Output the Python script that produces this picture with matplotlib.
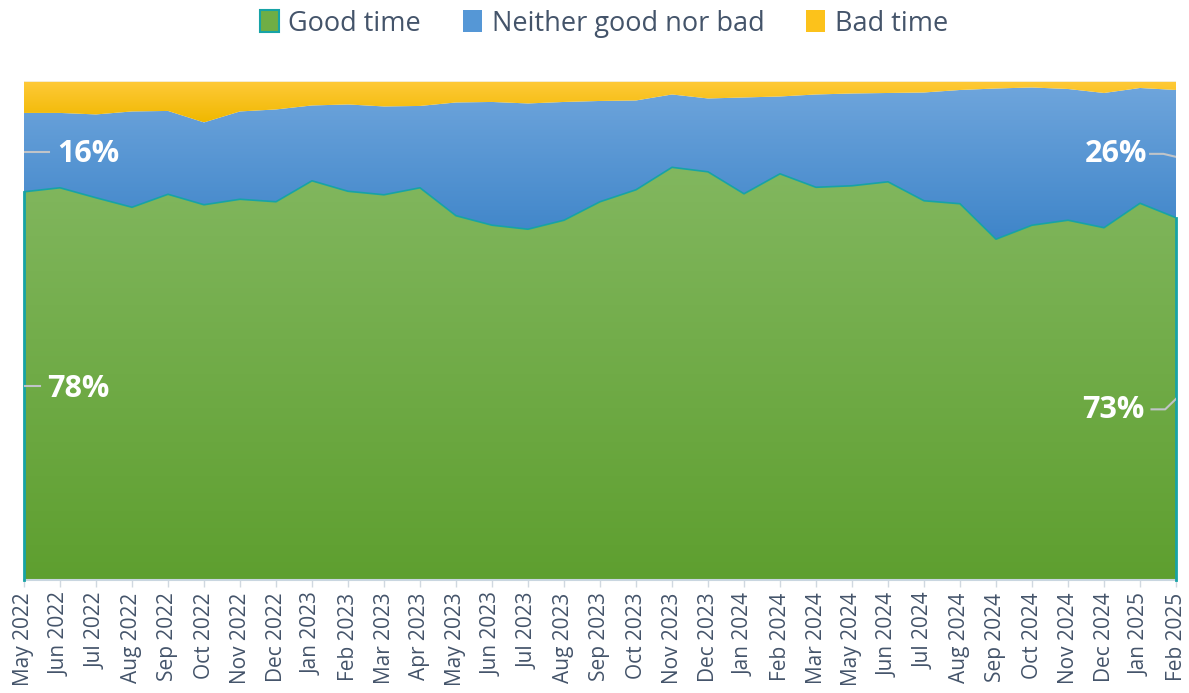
import numpy as np
import matplotlib
matplotlib.use("Agg")
import matplotlib.pyplot as plt
from matplotlib.colors import LinearSegmentedColormap
from matplotlib.patches import Rectangle

months = ["May 2022", "Jun 2022", "Jul 2022", "Aug 2022", "Sep 2022", "Oct 2022",
          "Nov 2022", "Dec 2022", "Jan 2023", "Feb 2023", "Mar 2023", "Apr 2023",
          "May 2023", "Jun 2023", "Jul 2023", "Aug 2023", "Sep 2023", "Oct 2023",
          "Nov 2023", "Dec 2023", "Jan 2024", "Feb 2024", "Mar 2024", "May 2024",
          "Jun 2024", "Jul 2024", "Aug 2024", "Sep 2024", "Oct 2024", "Nov 2024",
          "Dec 2024", "Jan 2025", "Feb 2025"]

good_time = [77.8, 78.6, 76.6, 74.7, 77.3, 75.2, 76.3, 75.8, 80.0, 77.9, 77.2, 78.6,
             73.0, 71.1, 70.3, 72.1, 75.8, 78.2, 82.7, 81.8, 77.4, 81.4, 78.7, 79.0,
             79.8, 76.0, 75.4, 68.3, 71.1, 72.1, 70.6, 75.5, 72.6]
neither = [15.8, 15.0, 16.7, 19.2, 16.7, 16.5, 17.6, 18.5, 15.1, 17.4, 17.7, 16.4,
           22.7, 24.7, 25.2, 23.7, 20.2, 17.9, 14.6, 14.7, 19.3, 15.5, 18.6, 18.5,
           17.8, 21.7, 22.8, 30.2, 27.6, 26.3, 27.0, 23.1, 25.6]
bad_time = [6.4, 6.4, 6.7, 6.1, 6.0, 8.3, 6.1, 5.7, 4.9, 4.7, 5.1, 5.0,
            4.3, 4.2, 4.5, 4.2, 4.0, 3.9, 2.7, 3.5, 3.3, 3.1, 2.7, 2.5,
            2.4, 2.3, 1.8, 1.5, 1.3, 1.6, 2.4, 1.4, 1.8]

series_names = ["Good time", "Neither good nor bad", "Bad time"]

FONT = "Open Sans"
TXT = "#44546a"

fig = plt.figure(figsize=(11.89, 6.93), dpi=100)
ax = fig.add_axes([24 / 1189, 113 / 693, (1176 - 24) / 1189, (580 - 81) / 693])

x = np.arange(len(months))
g = np.array(good_time)
n = np.array(neither)
b = np.array(bad_time)
c1 = g
c2 = g + n
c3 = g + n + b

ax.set_xlim(0, len(months) - 1)
ax.set_ylim(0, 100)


def grad_fill(lo, hi, top_col, bot_col, ytop, ybot, z):
    poly = ax.fill_between(x, lo, hi, color="none", lw=0, zorder=z)
    cmap = LinearSegmentedColormap.from_list("c", [bot_col, top_col])
    grad = np.linspace(0, 1, 256).reshape(-1, 1)
    im = ax.imshow(grad, cmap=cmap, aspect="auto", origin="lower",
                   extent=[0, len(months) - 1, ybot, ytop], zorder=z)
    im.set_clip_path(poly.get_paths()[0], transform=ax.transData)
    return poly


grad_fill(np.zeros_like(c1), c1, "#82b75f", "#5e9f2f", c1.max(), 0, 1)
grad_fill(c1, c2, "#6ea5dc", "#3f85c9", c2.max(), c1.min(), 1)
grad_fill(c2, c3, "#ffca3a", "#f0b800", 100, c2.min(), 1)

# teal edge of good-time series
ax.plot(x, c1, color="#17a3a6", lw=1.2, zorder=3)
ax.plot([0, 0], [0, c1[0]], color="#17a3a6", lw=2, zorder=3, clip_on=False)
ax.plot([x[-1], x[-1]], [0, c1[-1]], color="#17a3a6", lw=2, zorder=3, clip_on=False)
ax.plot(x, c3, color="#f3f3f3", lw=0.6, zorder=2)

for s in ["top", "left", "right"]:
    ax.spines[s].set_visible(False)
ax.spines["bottom"].set_color("#c9d6e0")
ax.spines["bottom"].set_linewidth(1.5)
ax.set_yticks([])
ax.set_xticks(x)
ax.set_xticklabels(months, rotation=90, fontsize=15, color=TXT, family=FONT)
ax.tick_params(axis="x", length=5, color="#d0d8e0", width=1, pad=4)

# data labels
lab_kw = dict(color="white", fontsize=22, fontweight="bold", family=FONT,
              va="center", zorder=5)
lead = "#c0c4c8"
ax.annotate(f"{g[0]:.0f}%", xy=(0, g[0] / 2), xytext=(17, -2),
            textcoords="offset points", ha="left", **lab_kw)
ax.plot([0, 0.45], [g[0] / 2, g[0] / 2], color=lead, lw=1.5, zorder=4)
ax.annotate(f"{n[0]:.0f}%", xy=(0, g[0] + n[0] / 2), xytext=(24, -1),
            textcoords="offset points", ha="left", **lab_kw)
ax.plot([0, 0.7], [g[0] + n[0] / 2] * 2, color=lead, lw=1.5, zorder=4)

last = len(months) - 1
ax.annotate(f"{n[-1]:.0f}%", xy=(last, g[-1] + n[-1] / 2), xytext=(-21, 0),
            textcoords="offset points", ha="right", **lab_kw)
ym = g[-1] + n[-1] / 2
ax.plot([last - 0.72, last - 0.35, last], [ym, ym, ym - 0.6], color=lead, lw=1.5, zorder=4)
ax.annotate(f"{g[-1]:.0f}%", xy=(last, g[-1] / 2), xytext=(-23, -8),
            textcoords="offset points", ha="right", **lab_kw)
yl = g[-1] / 2
ax.plot([last - 0.68, last - 0.3, last], [yl - 2.1, yl - 2.1, yl], color=lead, lw=1.5, zorder=4)

# legend
handles = [Rectangle((0, 0), 1, 1, facecolor="#6fae45", edgecolor="#17a3a6", lw=1.5),
           Rectangle((0, 0), 1, 1, facecolor="#5597d6", edgecolor="none"),
           Rectangle((0, 0), 1, 1, facecolor="#fcc21b", edgecolor="none")]
leg = fig.legend(handles, series_names, loc="center", bbox_to_anchor=(0.508, 0.966),
                 ncol=3, frameon=False, handlelength=0.7, handleheight=0.9,
                 handletextpad=0.35, columnspacing=1.55,
                 prop={"family": FONT, "size": 19.5})
for t in leg.get_texts():
    t.set_color(TXT)

fig.savefig("out.png", dpi=100)
